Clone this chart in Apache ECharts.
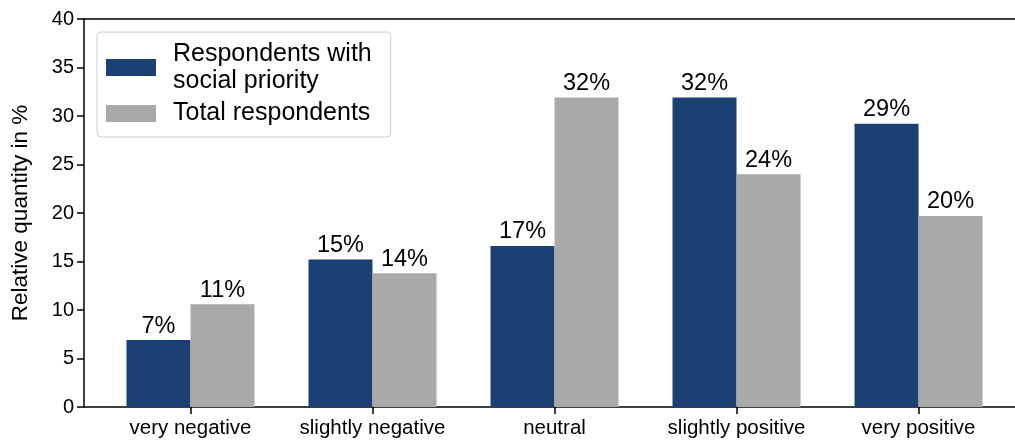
<!DOCTYPE html>
<html>
<head>
<meta charset="utf-8">
<script src="https://cdn.jsdelivr.net/npm/echarts@6/dist/echarts.min.js"></script>
<style>
  html, body { margin: 0; padding: 0; background: #fff; }
  #chart { width: 1015px; height: 447px; }
</style>
</head>
<body>
<div id="chart"></div>
<script>
const categories = ['very negative', 'slightly negative', 'neutral', 'slightly positive', 'very positive']
const positions = [0, 1, 2, 3, 4]
const socialPriority = [6.9, 15.2, 16.6, 31.9, 29.2]
const totalRespondents = [10.6, 13.8, 31.9, 24.0, 19.7]
const yTicks = [0, 5, 10, 15, 20, 25, 30, 35, 40]

const font = 'Liberation Sans, Arial, sans-serif'

const chart = echarts.init(document.getElementById('chart'))

const labelStyle = {
  show: true,
  position: 'top',
  distance: 2,
  color: '#000',
  fontSize: 23.5,
  fontFamily: font,
  formatter: p => Math.round(p.value[1]) + '%'
}

const option = {
  animation: false,
  grid: {
    left: 84,
    top: 19,
    right: 0,
    bottom: 40
  },
  legend: {
    orient: 'vertical',
    left: 97,
    top: 32,
    padding: [8.5, 19, 10, 9],
    backgroundColor: '#fff',
    borderColor: '#cccccc',
    borderWidth: 1,
    borderRadius: 4,
    itemWidth: 50,
    itemHeight: 17,
    itemGap: 5.5,
    textStyle: {
      color: '#000',
      fontSize: 25,
      fontFamily: font,
      lineHeight: 27,
      padding: [0, 0, 0, 12]
    },
    data: [
      { name: 'Respondents with\nsocial priority', icon: 'rect' },
      { name: 'Total respondents', icon: 'rect' }
    ]
  },
  xAxis: [
    {
      type: 'value',
      min: -0.585,
      max: 4.53,
      axisLine: { show: true, onZero: false, lineStyle: { color: '#000', width: 1.5 } },
      axisTick: {
        show: true,
        length: 7,
        customValues: positions,
        lineStyle: { color: '#000', width: 1.5 }
      },
      axisLabel: {
        customValues: positions,
        formatter: v => categories[Math.round(v)],
        color: '#000',
        fontSize: 20.5,
        fontFamily: font,
        margin: 11
      },
      splitLine: { show: false }
    },
    {
      type: 'value',
      position: 'top',
      min: -0.585,
      max: 4.53,
      axisLine: { show: true, onZero: false, lineStyle: { color: '#000', width: 1.5 } },
      axisTick: { show: false },
      axisLabel: { show: false },
      splitLine: { show: false }
    }
  ],
  yAxis: {
    type: 'value',
    min: yTicks[0],
    max: yTicks[yTicks.length - 1],
    interval: 5,
    name: 'Relative quantity in %',
    nameLocation: 'middle',
    nameGap: 52,
    nameTextStyle: { color: '#000', fontSize: 22.5, fontFamily: font },
    axisLine: { show: true, onZero: false, lineStyle: { color: '#000', width: 1.5 } },
    axisTick: { show: true, length: 7, lineStyle: { color: '#000', width: 1.5 } },
    axisLabel: { color: '#000', fontSize: 20, fontFamily: font, margin: 10 },
    splitLine: { show: false }
  },
  series: [
    {
      name: 'Respondents with\nsocial priority',
      type: 'bar',
      xAxisIndex: 0,
      barWidth: 64,
      barGap: '0%',
      itemStyle: { color: '#1b4174' },
      label: labelStyle,
      data: positions.map((x, i) => [x, socialPriority[i]])
    },
    {
      name: 'Total respondents',
      type: 'bar',
      xAxisIndex: 0,
      barWidth: 64,
      barGap: '0%',
      itemStyle: { color: '#a9a9a9' },
      label: labelStyle,
      data: positions.map((x, i) => [x, totalRespondents[i]])
    }
  ]
}

chart.setOption(option)
</script>
</body>
</html>
